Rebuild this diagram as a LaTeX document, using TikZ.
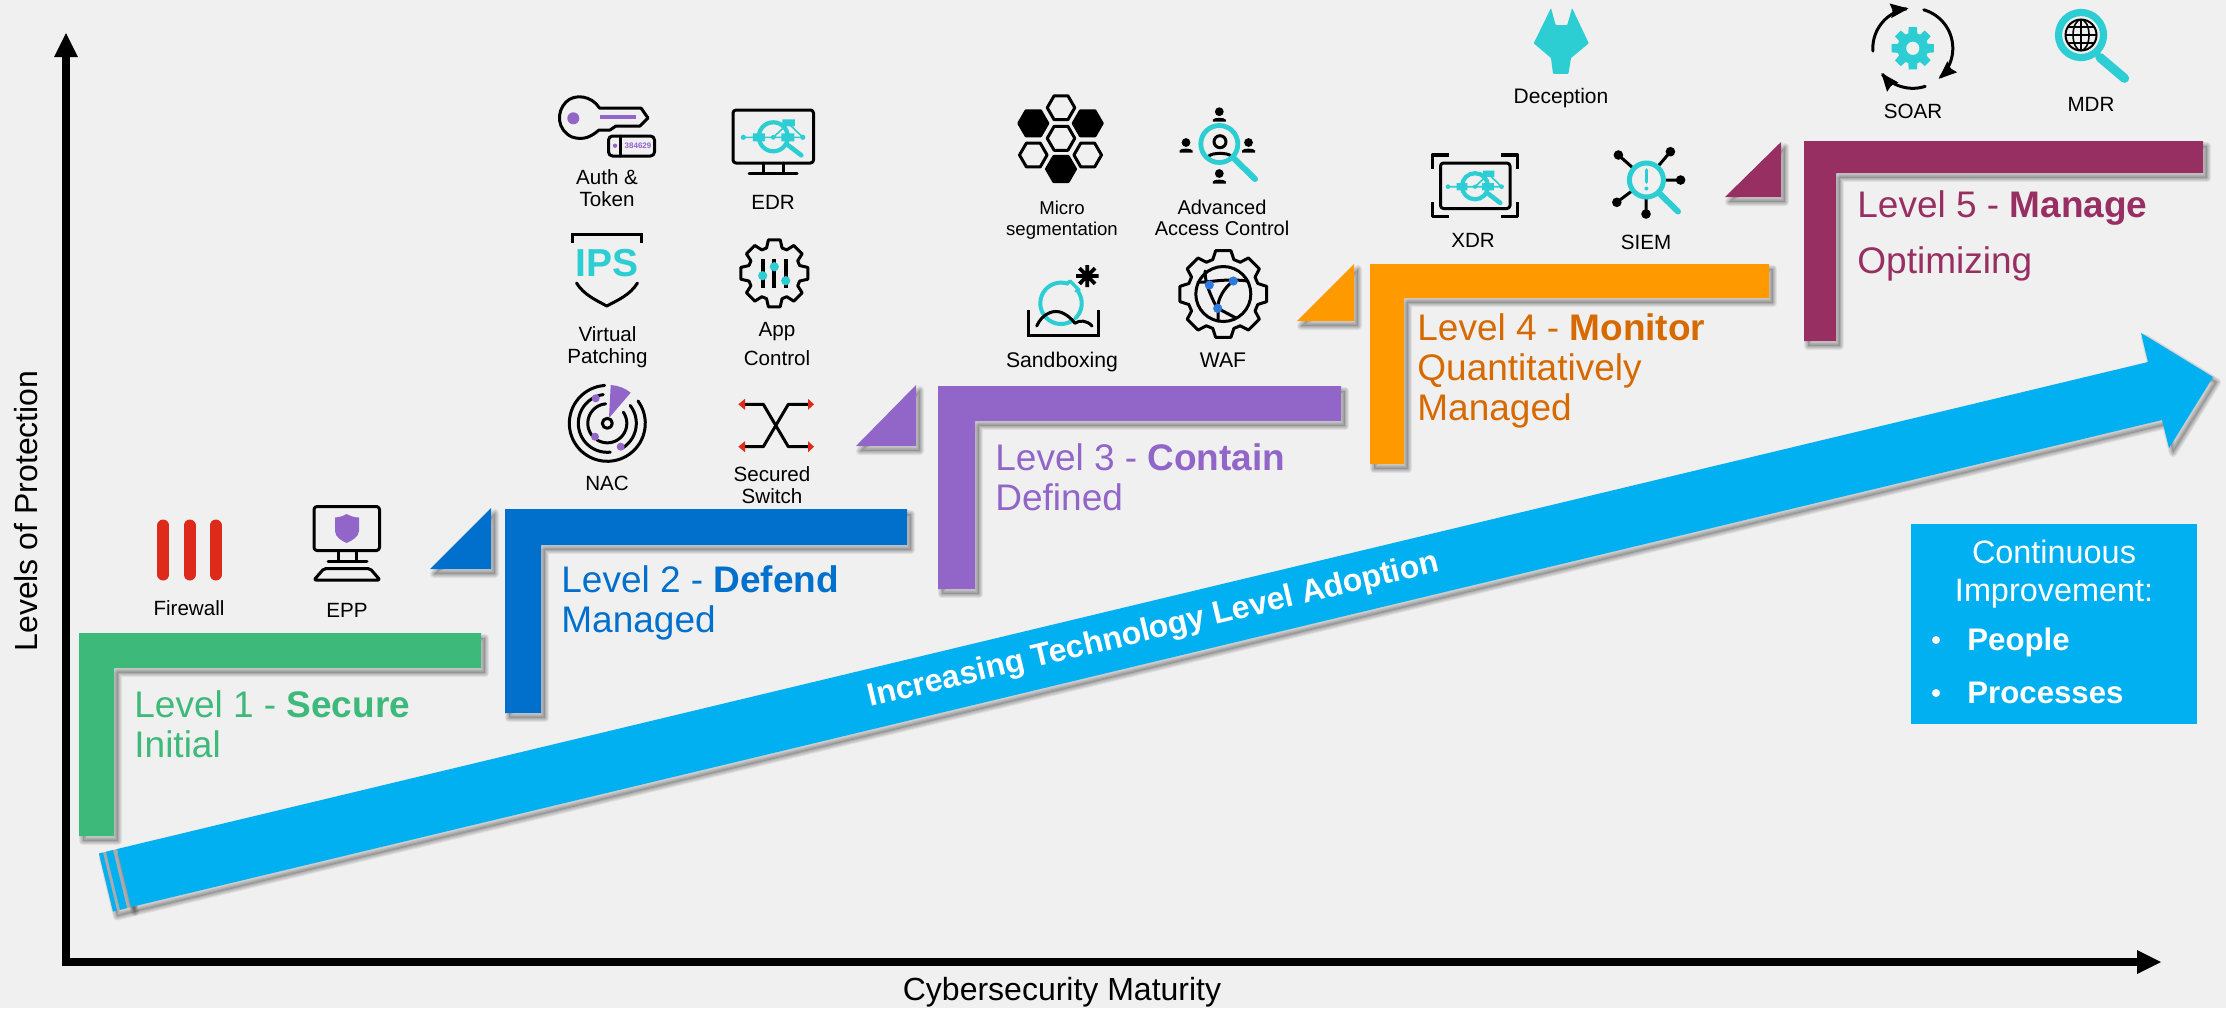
\documentclass[tikz,border=0pt]{standalone}
\usepackage{fontspec}
\setmainfont{Liberation Sans}
\usetikzlibrary{arrows.meta}
\definecolor{bgc}{HTML}{F0F0F0}
\definecolor{lgreen}{HTML}{3DB97A}
\definecolor{lblue}{HTML}{0070CC}
\definecolor{lpurple}{HTML}{9265C9}
\definecolor{lorange}{HTML}{FE9900}
\definecolor{ldorange}{HTML}{D66A00}
\definecolor{lmaroon}{HTML}{982F62}
\definecolor{skyc}{HTML}{00B0F0}
\definecolor{tealc}{HTML}{2CCDD3}
\definecolor{redc}{HTML}{DE2A1B}
\definecolor{dotblue}{HTML}{2E78DE}
\definecolor{bandc}{HTML}{ABABAB}
\tikzset{
  lvltxt/.style={anchor=base west,align=left,inner sep=0pt,font=\fontsize{18.5}{20}\selectfont},
  lbl/.style={anchor=base,align=center,inner sep=0pt,text=black,font=\fontsize{10.3}{11}\selectfont},
  axlbl/.style={anchor=base,inner sep=0pt,text=black,font=\fontsize{16}{18}\selectfont},
  whitetxt/.style={inner sep=0pt,text=white,font=\fontsize{16.2}{18}\selectfont},
  ico/.style={draw=black,line width=1.5pt,line join=round,line cap=round},
  icot/.style={draw=tealc,line width=2pt,line join=round,line cap=round},
  axisline/.style={draw=black,line width=4pt,line cap=butt},
}
% soft shadow plus filled closed shape
\newcommand{\softshape}[2]{%
  \fill[black,opacity=.15,shift={(4,5)}] #2 -- cycle;
  \foreach \w in {1,2,3,4}{\draw[black,opacity=.07,line width=\w pt,line join=round,shift={(4,5)}] #2 -- cycle;}
  \fill[#1] #2 -- cycle;}
% arc on screen, angles clockwise from east
\newcommand{\scrarc}[6][ico]{\draw[#1] plot[smooth,domain=#5:#6,samples=28,variable=\t] ({#2+#4*cos(\t)},{#3+#4*sin(\t)});}
% gear outline: centre, outer r, inner r, half tooth angles
\newcommand{\geardraw}[5]{\begin{scope}[shift={(#1,#2)}]
  \draw[ico] (-17:#4) \foreach \a in {0,45,...,315}{ -- ({\a-17}:#4) -- ({\a-10}:#3) -- ({\a+10}:#3) -- ({\a+17}:#4)} -- cycle;
\end{scope}}
% person symbol
\newcommand{\persona}[2]{\fill (#1,#2) circle[radius=4.4];
  \fill ({#1-6.5},{#2+10}) -- ({#1-6.5},{#2+8}) .. controls ({#1-5.5},{#2+5.5}) and ({#1+5.5},{#2+5.5}) .. ({#1+6.5},{#2+8}) -- ({#1+6.5},{#2+10}) -- cycle;}
% hexagon, flat top
\newcommand{\hexa}[4]{\draw[#4,line width=1.5pt,line join=round] (#1+#3,#2) -- (#1+.5*#3,#2+.866*#3) -- (#1-.5*#3,#2+.866*#3) -- (#1-#3,#2) -- (#1-.5*#3,#2-.866*#3) -- (#1+.5*#3,#2-.866*#3) -- cycle;}
% magnifier and network motif of EDR and XDR
\newcommand{\netglass}{%
  \draw[tealc,line width=.8pt] (-30,0) -- (29.5,0) (0,0) -- (15,-14) -- (29.5,0);
  \fill[tealc] (-30,0) circle[radius=2.6] (29.5,0) circle[radius=2.6] (0,0) circle[radius=2.4];
  \draw[tealc,line width=2.1pt] (0,-.5) circle[radius=14.5];
  \draw[tealc,line width=2.3pt,line cap=round] (15,8) -- (28,18);
  \fill[tealc] (-20.5,-4) rectangle (-8.5,4) (8,-4) rectangle (21,4) (9,-18) rectangle (21.5,-11);}
\begin{document}
\begin{tikzpicture}[x=0.5pt,y=-0.5pt]
\useasboundingbox (0,0) rectangle (2226,1008);
\fill[bgc] (0,0) rectangle (2226,1008);

% axes
\coordinate (origin) at (66,962);
\coordinate (ytop) at (66,50);
\coordinate (xend) at (2140,962);
\draw[axisline] (66,966) -- (ytop);
\draw[axisline] (62,962) -- (xend);
\fill (54,57) -- (66,33) -- (78,57) -- cycle;
\fill (2137,950) -- (2161,962) -- (2137,974) -- cycle;
\node[axlbl,rotate=90] (ylabel) at (37,511) {Levels of Protection};
\node[axlbl] (xlabel) at (1062,1000) {Cybersecurity Maturity};

% large arrow
\softshape{bandc}{(99,853.5) -- (117,849) -- (131,907) -- (113,911.5)}
\fill[skyc] (99,853.5) -- (103,852.5) -- (117,910.5) -- (113,911.5) -- cycle;
\fill[skyc] (106,851.8) -- (113,850) -- (127,908) -- (120,909.8) -- cycle;
\softshape{skyc}{(117,849) -- (2148,362) -- (2141,333) -- (2213,377) -- (2169,448) -- (2162,420) -- (131,907)}
\node[whitetxt,anchor=base west,rotate=13.4,font=\bfseries\fontsize{16}{18}\selectfont] (arrowtxt) at (870,707) {Increasing Technology Level Adoption};

% level 1
\softshape{lgreen}{(79,633) -- (481,633) -- (481,668) -- (114,668) -- (114,836) -- (79,836)}
\node[lvltxt,text=lgreen] (lvl1) at (134,757) {Level 1 - \textbf{Secure}\\Initial};
% level 2
\softshape{lblue}{(430,569) -- (491,508) -- (491,569)}
\softshape{lblue}{(505,509) -- (907,509) -- (907,545) -- (541,545) -- (541,713) -- (505,713)}
\node[lvltxt,text=lblue] (lvl2) at (561,632) {Level 2 - \textbf{Defend}\\Managed};
% level 3
\softshape{lpurple}{(856,446) -- (916,385) -- (916,446)}
\softshape{lpurple}{(938,386) -- (1341,386) -- (1341,421) -- (975,421) -- (975,589) -- (938,589)}
\node[lvltxt,text=lpurple] (lvl3) at (995,510) {Level 3 - \textbf{Contain}\\Defined};
% level 4
\softshape{lorange}{(1297,321) -- (1354,264) -- (1354,321)}
\softshape{lorange}{(1370,264) -- (1769,264) -- (1769,298) -- (1404,298) -- (1404,464) -- (1370,464)}
\node[lvltxt,text=ldorange] (lvl4) at (1417,420) {Level 4 - \textbf{Monitor}\\Quantitatively\\Managed};
% level 5
\softshape{lmaroon}{(1725,197) -- (1781,142) -- (1781,197)}
\softshape{lmaroon}{(1804,141) -- (2203,141) -- (2203,173) -- (1836,173) -- (1836,341) -- (1804,341)}
\node[lvltxt,text=lmaroon] (lvl5) at (1857,273) {Level 5 - \textbf{Manage}\\[8pt]Optimizing};

% improvement box
\fill[skyc] (1911,524) rectangle (2197,724);
\node[whitetxt,anchor=base] (cont1) at (2054,563) {Continuous};
\node[whitetxt,anchor=base] (cont2) at (2054,601) {Improvement:};
\fill[white] (1936,640) circle[radius=4] (1936,693) circle[radius=4];
\node[whitetxt,anchor=base west,font=\bfseries\fontsize{15.6}{18}\selectfont] (people) at (1967,650) {People};
\node[whitetxt,anchor=base west,font=\bfseries\fontsize{15.6}{18}\selectfont] (proc) at (1967,703) {Processes};

% Firewall
\draw[redc,line width=6pt,line cap=round] (163.3,525.5) -- (163.3,574.5) (189.5,525.5) -- (189.5,574.5) (215.7,525.5) -- (215.7,574.5);
\node[lbl] (firewall) at (189,615) {Firewall};
% EPP
\draw[ico,rounded corners=1.5pt] (314,506.5) rectangle (379.5,550.5);
\draw[ico] (338,551) -- (338,561) (356.7,551) -- (356.7,561) (328,561.7) -- (367,561.7);
\draw[ico,rounded corners=1pt] (324,568.5) -- (370,568.5) -- (380,580) -- (314,580) -- cycle;
\fill[lpurple] (346.7,514) .. controls (341,517) and (338,517.5) .. (335,517.5) -- (335,531) .. controls (335,537) and (342,541) .. (346.7,543) .. controls (351,541) and (359,537) .. (359,531) -- (359,517.5) .. controls (356,517.5) and (352,517) .. (346.7,514) -- cycle;
\node[lbl] (epp) at (347,617) {EPP};

% Auth and token
\draw[ico,fill=none] (599.5,108) .. controls (592,96) and (575,93) .. (566,102) .. controls (556,112) and (557,130) .. (572,137) .. controls (584,141) and (592,136) .. (599,130) -- (610,130) -- (616,126) -- (640,126) -- (648,118) -- (641,108) -- cycle;
\fill[lpurple] (573.3,118.3) circle[radius=6];
\draw[lpurple,line width=1.8pt] (600,117) -- (636,117);
\draw[ico,rounded corners=2pt] (608.5,136) rectangle (654.5,156);
\draw[ico] (620.7,136) -- (620.7,156);
\fill[lpurple] (615,145.7) circle[radius=2.2];
\node[inner sep=0pt,text=lpurple,font=\bfseries\fontsize{4}{4}\selectfont] (tokennum) at (638,145.7) {384629};
\node[lbl] (auth) at (607,206) {Auth \&\\Token};
% EDR
\draw[ico,rounded corners=1.5pt] (733,110) rectangle (813.5,163);
\draw[ico] (763.3,163) -- (763.3,173) (783.3,163) -- (783.3,173) (749,173.3) -- (797,173.3);
\begin{scope}[shift={(773.3,137.3)}]\netglass\end{scope}
\node[lbl] (edr) at (773,209) {EDR};
% Virtual patching
\draw[ico,line cap=butt,line join=miter] (572.5,243) -- (572.5,234) -- (641.5,234) -- (641.5,243);
\node[inner sep=0pt,text=tealc,font=\bfseries\fontsize{19.5}{20}\selectfont] (ips) at (607.3,263.5) {IPS};
\draw[ico] (576.5,283) .. controls (584,295) and (596,300) .. (606.7,306) .. controls (618,300) and (630,295) .. (637.5,283);
\node[lbl] (vpatch) at (607.5,363) {Virtual\\Patching};
% App control
\geardraw{774.3}{273.3}{34}{26.5}{}
\draw[black,line width=2pt] (762.7,259.3) -- (762.7,288.3) (774.3,259.3) -- (774.3,288.3) (785.7,259.3) -- (785.7,288.3);
\fill[tealc] (762.7,275.7) circle[radius=4.6] (774.3,266.7) circle[radius=4.6] (785.7,280.7) circle[radius=4.6];
\node[lbl] (appc) at (777,365) {App\\[3.2pt]Control};
% NAC
\draw[ico] (607.3,423.3) circle[radius=5];
\scrarc{607.3}{423.3}{38}{-36}{266}
\scrarc{607.3}{423.3}{29}{-38}{58}
\scrarc{607.3}{423.3}{29}{84}{262}
\scrarc{607.3}{423.3}{19.5}{-35}{122}
\scrarc{607.3}{423.3}{19.5}{140}{265}
\fill[lpurple] (609,418) -- (610.7,385) .. controls (618,385.5) and (625,388) .. (630.7,392.7) -- cycle;
\fill[lpurple] (595.7,398.3) circle[radius=4] (595,436.7) circle[radius=4] (620.7,446.7) circle[radius=4];
\node[lbl] (nac) at (607,490) {NAC};
% Secured switch
\draw[ico] (745,404.3) -- (763.3,404.3) -- (788.3,446.7) -- (808.3,446.7);
\draw[ico] (745,446.7) -- (763.3,446.7) -- (788.3,404.3) -- (808.3,404.3);
\fill[redc] (738.3,404.3) -- (745,398.8) -- (745,409.8) -- cycle (738.3,446.7) -- (745,441.2) -- (745,452.2) -- cycle;
\fill[redc] (814,404.3) -- (808,398.8) -- (808,409.8) -- cycle (814,446.7) -- (808,441.2) -- (808,452.2) -- cycle;
\node[lbl] (sswitch) at (772,503) {Secured\\Switch};

% Micro segmentation
\hexa{1061}{107.7}{13.8}{draw=black}
\hexa{1033.3}{123.3}{14.5}{draw=black,fill=black}
\hexa{1087.7}{123.3}{14.5}{draw=black,fill=black}
\hexa{1061}{138.3}{13.8}{draw=black}
\hexa{1033.3}{155}{13.8}{draw=black}
\hexa{1087.7}{155}{13.8}{draw=black}
\hexa{1061}{169}{14.5}{draw=black,fill=black}
\node[lbl,font=\fontsize{9.3}{10.5}\selectfont] (micro) at (1062,235) {Micro\\segmentation};
% Advanced access control
\persona{1219.3}{111.7}
\persona{1186}{142.5}
\persona{1248.5}{142.5}
\persona{1219.3}{173.5}
\draw[ico] (1220,141.7) circle[radius=6];
\draw[ico] (1209,156) .. controls (1212,152.5) and (1228,152.5) .. (1231,156);
\draw[tealc,line width=2.4pt] (1219.3,144) circle[radius=18.5];
\draw[tealc,line width=3pt,line cap=round] (1234,158.5) -- (1255,179);
\node[lbl,font=\fontsize{10}{10.5}\selectfont] (aac) at (1222,235) {Advanced\\Access Control};
% Sandboxing
\scrarc[icot]{1061}{303.3}{20.7}{-305}{-72}
\scrarc[icot]{1061}{303.3}{20.7}{-32}{45}
\draw[icot,line width=1.6pt] (1067,283.5) -- (1070,281) -- (1079,290) -- (1076,291);
\draw[black,line width=1.9pt] (1076,276) -- (1098.5,276) (1087.3,265) -- (1087.3,287) (1079.5,268.2) -- (1095,283.8) (1095,268.2) -- (1079.5,283.8);
\draw[ico,line join=miter,line cap=butt] (1028,310) -- (1028,335) -- (1098,335) -- (1098,310);
\draw[ico] (1036.7,326) .. controls (1042,314) and (1052,311) .. (1057,311.5) .. controls (1064,312) and (1071,318) .. (1075,323.3) .. controls (1079,320) and (1087,320) .. (1092,326);
\node[lbl,font=\fontsize{10.6}{11}\selectfont] (sandb) at (1062,367) {Sandboxing};
% WAF
\geardraw{1223.3}{294}{44}{36}{}
\draw[ico] (1223.3,294) circle[radius=27.5];
\draw[ico] (1198,282) .. controls (1209,283) and (1222,278) .. (1248,281);
\draw[ico] (1205,271) .. controls (1205,285) and (1212,298) .. (1218,310) -- (1218,321);
\draw[ico] (1233.3,281) .. controls (1224,288) and (1218,298) .. (1217.7,308.3) -- (1236,318);
\fill[dotblue] (1209.3,285) circle[radius=4.6] (1233.3,281) circle[radius=4.6] (1217.7,308.3) circle[radius=4.6];
\node[lbl,font=\fontsize{10.6}{11}\selectfont] (waf) at (1223,367) {WAF};

% Deception
\fill[tealc,rounded corners=.4pt] (1551,8) -- (1555.6,25) -- (1567.3,25) -- (1572,8) -- (1588.8,43.3) -- (1571,58) -- (1568.4,73.8) -- (1553,73.8) -- (1551,58) -- (1533.7,43.3) -- cycle;
\node[lbl,font=\fontsize{10.5}{11}\selectfont] (decep) at (1561,103) {Deception};
% XDR
\draw[ico,rounded corners=1.5pt] (1440.5,163) rectangle (1510,208.5);
\draw[black,line width=1.8pt,line join=round,line cap=butt] (1449,155) -- (1432.5,155) -- (1432.5,169) (1501,155) -- (1517.5,155) -- (1517.5,169) (1449,216.5) -- (1432.5,216.5) -- (1432.5,202) (1501,216.5) -- (1517.5,216.5) -- (1517.5,202);
\begin{scope}[shift={(1475,186.7)},scale=.9]\netglass\end{scope}
\node[lbl] (xdr) at (1473,247) {XDR};
% SIEM
\draw[ico] (1646.4,180) -- (1618.4,155) (1646.4,180) -- (1670.4,151.7) (1646.4,180) -- (1680.6,180) (1646.4,180) -- (1616.8,202.3) (1646.4,180) -- (1646,214);
\fill (1618.4,155) circle[radius=4.8] (1670.4,151.7) circle[radius=4.8] (1680.6,180) circle[radius=4.8] (1616.8,202.3) circle[radius=4.8] (1646,214) circle[radius=4.8];
\draw[tealc,fill=bgc,line width=2.5pt] (1646.4,180) circle[radius=17];
\draw[tealc,line width=3pt,line cap=round] (1660,194) -- (1678,211.5);
\draw[tealc,line width=1.8pt,line cap=round] (1646.4,170) -- (1646.4,182);
\fill[tealc] (1646.4,188.5) circle[radius=2];
\node[lbl] (siem) at (1646,249) {SIEM};
% SOAR
\scrarc[{draw=black,line width=1.5pt,line cap=round,-{Stealth[length=9pt,width=7pt,inset=1pt]}}]{1912.8}{48.3}{40}{176}{264}
\scrarc[{draw=black,line width=1.5pt,line cap=round,-{Stealth[length=9pt,width=7pt,inset=1pt]}}]{1912.8}{48.3}{40}{-74}{50}
\scrarc[{draw=black,line width=1.5pt,line cap=round,-{Stealth[length=9pt,width=7pt,inset=1pt]}}]{1912.8}{48.3}{40}{72}{142}
\begin{scope}[shift={(1912.8,48.3)}]
\fill[tealc,even odd rule] (-17:15.5) \foreach \a in {0,45,...,315}{ -- ({\a-17}:15.5) -- ({\a-11}:21.5) -- ({\a+11}:21.5) -- ({\a+17}:15.5)} -- cycle (0,0) circle[radius=6.7];
\end{scope}
\node[lbl] (soar) at (1913,118) {SOAR};
% MDR
\draw[tealc,line width=3.6pt] (2081,35) circle[radius=22.5];
\draw[tealc,line width=4.6pt,line cap=round] (2100,57.5) -- (2124.5,78.3);
\draw[black,line width=1pt] (2081,35) circle[radius=15.5];
\draw[black,line width=.8pt] (2081,19.5) -- (2081,50.5) (2065.5,35) -- (2096.5,35) (2068,27) -- (2094,27) (2068,43) -- (2094,43);
\draw[black,line width=.8pt] (2081,35) ellipse[x radius=8,y radius=15.5];
\node[lbl] (mdr) at (2091,111) {MDR};
\end{tikzpicture}
\end{document}
